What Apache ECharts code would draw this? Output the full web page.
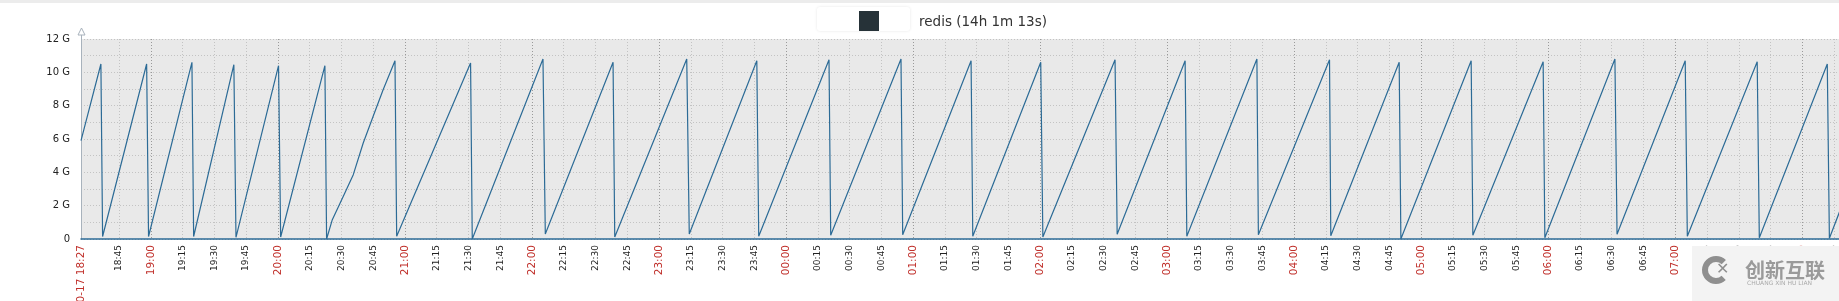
<!DOCTYPE html>
<html>
<head>
<meta charset="utf-8">
<script src="https://cdn.jsdelivr.net/npm/echarts@6/dist/echarts.min.js"></script>
<style>
html,body{margin:0;padding:0;background:#fff;}
#c{width:1839px;height:301px;}
</style>
</head>
<body>
<div id="c"></div>
<script>
// minutes since 10-17 00:00
const startMin = 1107;      // 18:27
const endMin = 1948.2;      // 08:28:13 next day
const seriesName = 'redis (14h 1m 13s)';
const times = [1107.0,1116.4,1117.2,1138.0,1138.9,1159.4,1160.2,1179.2,1180.2,1200.3,1201.3,1222.2,1223.0,1225.7,1230.9,1235.6,1240.3,1245.0,1249.7,1255.3,1256.1,1291.0,1291.8,1325.2,1326.3,1358.3,1359.1,1393.1,1394.3,1426.2,1427.1,1460.3,1461.1,1494.3,1495.1,1527.4,1528.2,1560.3,1561.3,1595.4,1596.4,1628.5,1629.3,1662.4,1663.1,1696.7,1697.3,1729.6,1730.4,1763.6,1764.4,1797.6,1798.4,1831.5,1832.5,1864.7,1865.7,1898.7,1899.7,1931.8,1932.8,1937.5,1948.2];
const values = [5.9,10.5,0.15,10.5,0.15,10.6,0.15,10.46,0.1,10.4,0.12,10.4,0.0,1.16,2.56,3.86,5.76,7.36,8.96,10.7,0.16,10.56,0.0,10.8,0.3,10.6,0.12,10.8,0.3,10.7,0.16,10.76,0.22,10.8,0.26,10.7,0.16,10.6,0.12,10.76,0.28,10.7,0.16,10.8,0.26,10.76,0.2,10.6,0.0,10.7,0.22,10.64,0.08,10.8,0.28,10.7,0.16,10.64,0.08,10.5,0.04,1.6,4.9];
const firstLabel = '10-17 18:27';
const tickLabels = ['18:45','19:00','19:15','19:30','19:45','20:00','20:15','20:30','20:45','21:00','21:15','21:30','21:45','22:00','22:15','22:30','22:45','23:00','23:15','23:30','23:45','00:00','00:15','00:30','00:45','01:00','01:15','01:30','01:45','02:00','02:15','02:30','02:45','03:00','03:15','03:30','03:45','04:00','04:15','04:30','04:45','05:00','05:15','05:30','05:45','06:00','06:15','06:30','06:45','07:00','07:15','07:30','07:45','08:00','08:15'];
const yTickLabels = ['0','2 G','4 G','6 G','8 G','10 G','12 G'];

function toMin(s){ const p=s.split(':'); let h=+p[0], m=+p[1]; let v=h*60+m; if(h<18) v+=1440; return v; }
const tickVals = tickLabels.map(toMin);
const hourVals = tickLabels.filter(s=>s.endsWith(':00')).map(toMin);
const labelMap = {};
tickLabels.forEach(s=>{ labelMap[toMin(s)] = s; });

const chart = echarts.init(document.getElementById('c'), null, {renderer:'canvas'});
const lineColor = '#2c6b96';
chart.setOption({
  animation:false,
  backgroundColor:'#ffffff',
  title:{text:seriesName,left:919,top:15,padding:0,textStyle:{fontFamily:'DejaVu Sans',fontSize:13.5,fontWeight:'normal',color:'#333'}},
  grid:{left:81,top:39,height:200,width:1781,show:true,backgroundColor:'#e9e9e9',borderWidth:0,containLabel:false,outerBoundsMode:'none'},
  xAxis:[{
    type:'value',min:startMin,max:endMin,position:'bottom',
    axisLine:{show:true,onZero:false,lineStyle:{color:lineColor,width:1.5}},
    axisTick:{show:false,customValues:[startMin].concat(tickVals)},
    axisLabel:{customValues:[startMin].concat(tickVals),rotate:90,margin:6,hideOverlap:false,fontFamily:'DejaVu Sans',fontSize:9,
      formatter:function(v){ if(Math.abs(v-startMin)<0.01) return '{r|'+firstLabel+'}'; const s=labelMap[Math.round(v)]; if(!s) return ''; return s.endsWith(':00')?'{r|'+s+'}':'{k|'+s+'}'; },
      rich:{r:{color:'#c0302b',fontFamily:'DejaVu Sans',fontSize:10.5},k:{color:'#222',fontFamily:'DejaVu Sans',fontSize:9}}},
    splitLine:{show:true,lineStyle:{color:'#c3c3c3',type:[1,2],width:1}}
  },{
    type:'value',min:startMin,max:endMin,position:'bottom',
    axisLine:{show:false},axisTick:{show:false,customValues:hourVals},
    axisLabel:{show:false,customValues:hourVals},
    splitLine:{show:true,lineStyle:{color:'#9a9a9a',type:[1,2],width:1}}
  }],
  yAxis:{type:'value',min:0,max:12,interval:1,
    axisLine:{show:true,lineStyle:{color:'#a8b2bc',width:1}},
    axisTick:{show:false},
    axisLabel:{margin:11,fontFamily:'DejaVu Sans',fontSize:10,color:'#222',
      formatter:function(v){ return (v%2===0)? yTickLabels[v/2] : ''; }},
    splitLine:{show:true,lineStyle:{color:'#c3c3c3',type:[1,2],width:1}}
  },
  series:[{
    name:seriesName,type:'line',xAxisIndex:0,data:times.map((t,i)=>[t,values[i]]),
    showSymbol:false,symbol:'none',lineStyle:{color:lineColor,width:1.2},z:5
  }],
  graphic:[
    {type:'rect',shape:{x:0,y:0,width:1839,height:3},style:{fill:'#ececec'},silent:true},
    {type:'rect',shape:{x:817,y:7,width:93,height:24,r:3},style:{fill:'#fff',shadowColor:'rgba(0,0,0,0.10)',shadowBlur:3},silent:true},
    {type:'rect',shape:{x:859,y:11,width:20,height:20},style:{fill:'#263238'},silent:true},
    {type:'line',shape:{x1:81.5,y1:39,x2:81.5,y2:33},style:{stroke:'#a8b2bc',lineWidth:1},silent:true},
    {type:'polygon',shape:{points:[[78,35],[85,35],[81.5,28]]},style:{fill:'#fff',stroke:'#a8b2bc',lineWidth:1},silent:true},
    {type:'rect',z:100,zlevel:1,shape:{x:1692,y:246,width:147,height:55},style:{fill:'#f3f3f3'},silent:true},
    {type:'arc',z:101,zlevel:1,shape:{cx:1716,cy:270,r:11,startAngle:0.8,endAngle:5.5},style:{fill:'none',stroke:'#8f8f8f',lineWidth:6},silent:true},
    {type:'text',z:101,zlevel:1,style:{x:1716,y:270,text:'✕',font:'bold 16px "DejaVu Sans"',fill:'#8f8f8f',align:'left',verticalAlign:'middle'},silent:true},
    {type:'text',z:101,zlevel:1,style:{x:1745,y:260,text:'创新互联',font:'bold 20px "Noto Sans CJK SC"',fill:'#9a9a9a'},silent:true},
    {type:'text',z:101,zlevel:1,style:{x:1747,y:280,text:'CHUANG XIN HU LIAN',font:'6px "DejaVu Sans"',fill:'#aaa'},silent:true}
  ]
});
</script>
</body>
</html>
